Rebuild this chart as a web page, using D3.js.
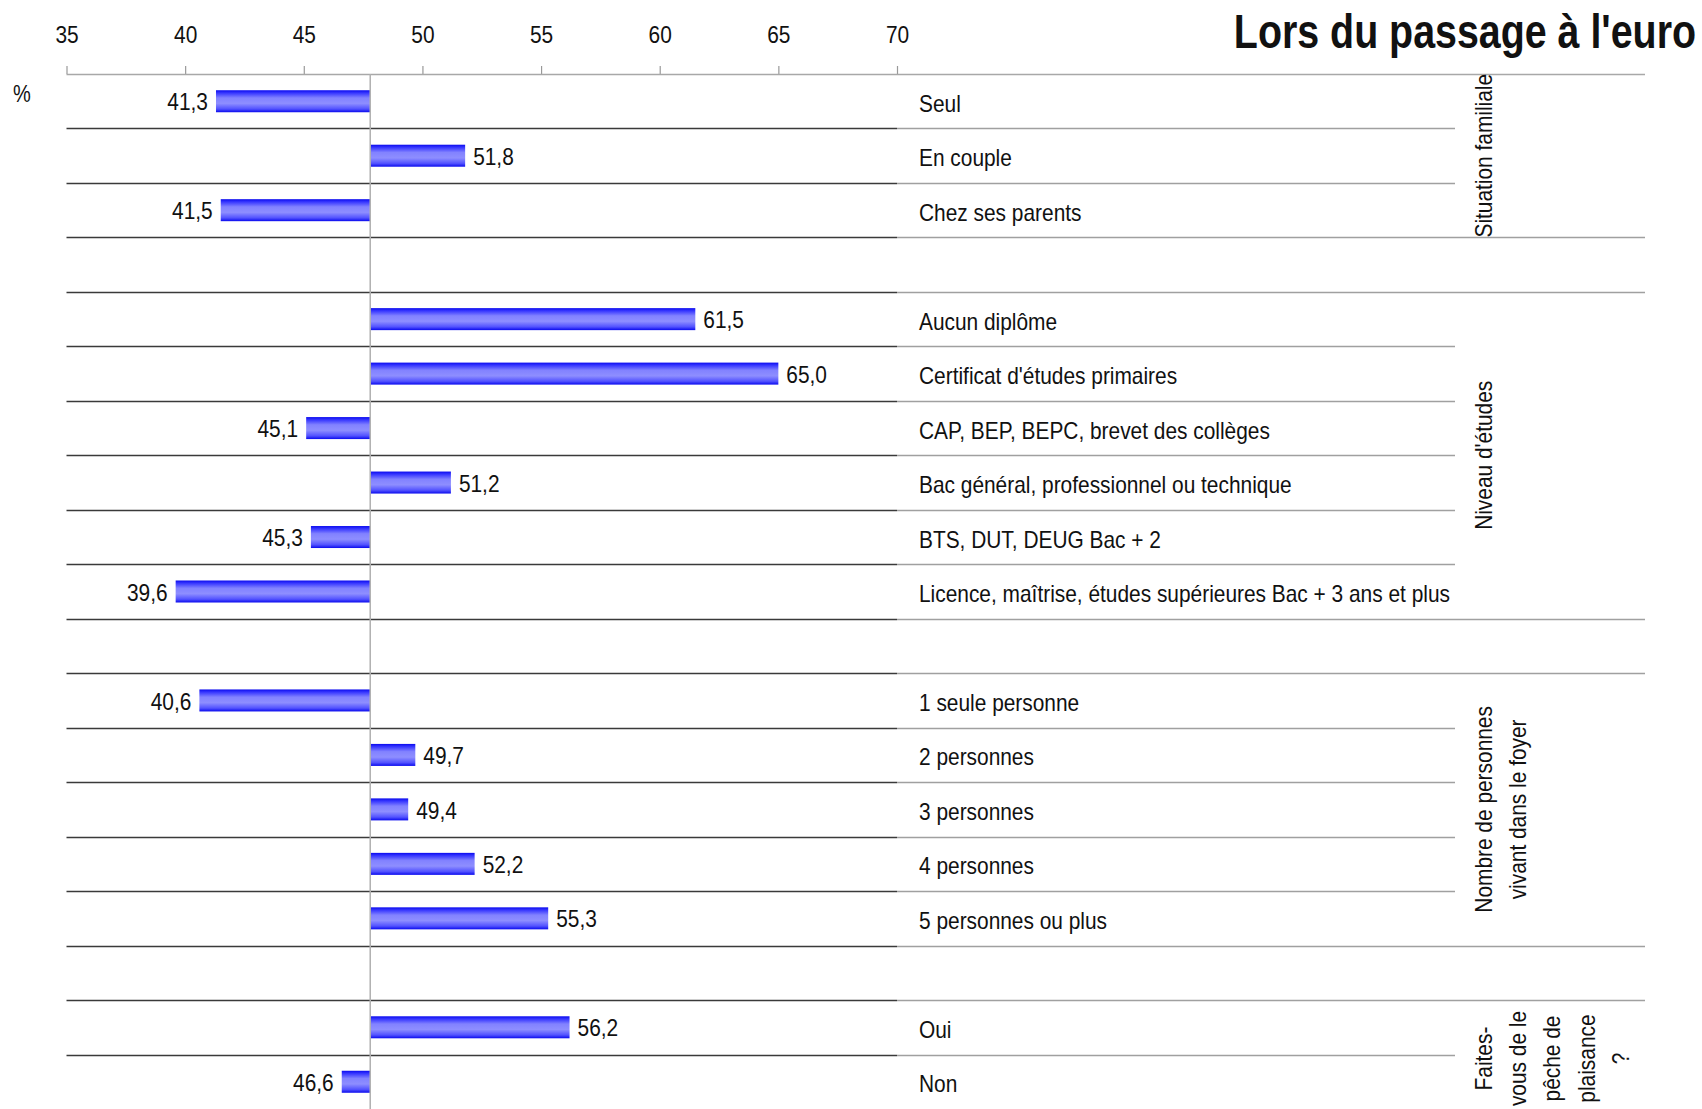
<!DOCTYPE html>
<html>
<head>
<meta charset="utf-8">
<script src="https://cdn.jsdelivr.net/npm/d3@7"></script>
<style>
  body { margin: 0; background: #fff; }
  svg text { font-family: "Liberation Sans", Arial, sans-serif; fill: #111; }
</style>
</head>
<body>
<div id="chart"></div>
<script>
// rows of the chart, "" = empty spacer row
var categories = ["Seul", "En couple", "Chez ses parents", "",
  "Aucun diplôme", "Certificat d'études primaires", "CAP, BEP, BEPC, brevet des collèges",
  "Bac général, professionnel ou technique", "BTS, DUT, DEUG Bac + 2",
  "Licence, maîtrise, études supérieures Bac + 3 ans et plus", "",
  "1 seule personne", "2 personnes", "3 personnes", "4 personnes", "5 personnes ou plus", "",
  "Oui", "Non"];
var values = [41.3, 51.8, 41.5, null,
  61.5, 65.0, 45.1, 51.2, 45.3, 39.6, null,
  40.6, 49.7, 49.4, 52.2, 55.3, null,
  56.2, 46.6];
var baseline = 47.8;
var xTicks = [35, 40, 45, 50, 55, 60, 65, 70];
var groupLabels = [["Situation familiale"], ["Niveau d'études"],
  ["Nombre de personnes", "vivant dans le foyer"],
  ["Faites-", "vous de le", "pêche de", "plaisance", "?"]];
var groupRows = [[0, 2], [4, 9], [11, 15], [17, 18]];
var title = "Lors du passage à l'euro";

(function() {

var W = 1702, H = 1109;
var topY = 74, left = 66.5, plotRight = 897, labelRight = 1455, fullRight = 1645;

var svg = d3.select("#chart").append("svg")
  .attr("width", W).attr("height", H);

var defs = svg.append("defs");
var grad = defs.append("linearGradient").attr("id", "barGrad")
  .attr("x1", 0).attr("y1", 0).attr("x2", 0).attr("y2", 1);
[[0, "#0a0aee"], [0.12, "#3535ff"], [0.35, "#8282ff"], [0.6, "#8e8eff"], [0.85, "#5252ff"], [1, "#0a0aee"]]
  .forEach(function(s) { grad.append("stop").attr("offset", s[0]).attr("stop-color", s[1]); });

var x = d3.scaleLinear().domain([35, 70]).range([left, plotRight]);
var y = d3.scaleBand().domain(d3.range(categories.length)).range([topY, H]).paddingInner(0);
var bh = 22;

// group boundaries: lines that go all the way right
var groupEdges = new Set();
groupRows.forEach(function(g) { groupEdges.add(g[0]); groupEdges.add(g[1] + 1); });

function ry(i) { return Math.round(y(i)) + 0.5; }

// row separators
var seps = d3.range(1, categories.length);
svg.append("g").selectAll("line").data(seps).enter().append("line")
  .attr("x1", plotRight).attr("x2", function(i) { return groupEdges.has(i) ? fullRight : labelRight; })
  .attr("y1", ry).attr("y2", ry)
  .attr("stroke", "#a0a0a0").attr("stroke-width", 1.5);
svg.append("g").selectAll("line").data(seps).enter().append("line")
  .attr("x1", left).attr("x2", plotRight)
  .attr("y1", ry).attr("y2", ry)
  .attr("stroke", "#3a3a3a").attr("stroke-width", 1.5);

// top axis
var axis = svg.append("g").attr("transform", "translate(0," + topY + ")")
  .call(d3.axisTop(x).tickValues(xTicks).tickSize(8).tickPadding(23).tickFormat(d3.format("d")));
axis.select(".domain").remove();
axis.selectAll(".tick line").attr("stroke", "#999").attr("stroke-width", 1.2);
axis.selectAll(".tick text").attr("class", "nar").style("font-size", "24px").attr("fill", "#111");
svg.append("line").attr("x1", left).attr("x2", fullRight)
  .attr("y1", topY + 0.5).attr("y2", topY + 0.5)
  .attr("stroke", "#a8a8a8").attr("stroke-width", 1.5);

svg.append("text").attr("class", "nar").attr("x", 13).attr("y", 102).style("font-size", "23px").text("%");

// bars
var rows = categories.map(function(c, i) { return { cat: c, v: values[i], i: i }; });
var withVal = rows.filter(function(d) { return d.v != null; });

svg.append("g").selectAll("rect").data(withVal).enter().append("rect")
  .attr("x", function(d) { return x(Math.min(d.v, baseline)); })
  .attr("width", function(d) { return Math.abs(x(d.v) - x(baseline)); })
  .attr("y", function(d) { return y(d.i) + y.bandwidth() / 2 - bh / 2; })
  .attr("height", bh)
  .attr("fill", "url(#barGrad)");

svg.append("g").selectAll("text").data(withVal).enter().append("text")
  .attr("class", "nar")
  .attr("x", function(d) { return d.v < baseline ? x(d.v) - 8 : x(d.v) + 8; })
  .attr("y", function(d) { return y(d.i) + y.bandwidth() / 2; })
  .attr("dy", "0.38em")
  .attr("text-anchor", function(d) { return d.v < baseline ? "end" : "start"; })
  .style("font-size", "24px")
  .text(function(d) { return d3.format(".1f")(d.v).replace(".", ","); });

// baseline
svg.append("line").attr("x1", x(baseline)).attr("x2", x(baseline))
  .attr("y1", topY).attr("y2", H)
  .attr("stroke", "#b0b0b0").attr("stroke-width", 1.5);

// category labels
svg.append("g").selectAll("text").data(rows.filter(function(d) { return d.cat; })).enter().append("text")
  .attr("class", "nar")
  .attr("x", 919)
  .attr("y", function(d) { return y(d.i) + y.bandwidth() / 2; })
  .attr("dy", "0.44em")
  .style("font-size", "24px")
  .text(function(d) { return d.cat; });

// group labels, rotated
groupLabels.forEach(function(lines, g) {
  var r = groupRows[g];
  var cy = (y(r[0]) + y(r[1]) + y.bandwidth()) / 2 + (g == 3 ? 4 : 0);
  lines.forEach(function(line, k) {
    svg.append("text")
      .attr("class", "nar")
      .attr("transform", "translate(" + (1483 + k * 34.3) + "," + cy + ") rotate(-90)")
      .attr("text-anchor", "middle")
      .attr("dy", "0.36em")
      .style("font-size", "24px")
      .text(line);
  });
});

// title
svg.append("text").attr("class", "nar title").attr("x", 1696).attr("y", 48)
  .attr("text-anchor", "end")
  .style("font-size", "48px").style("font-weight", "bold")
  .text(title);

// squeeze glyphs to look like a narrow face
svg.selectAll("text.nar").each(function() {
  var k = this.classList.contains("title") ? 0.82 : 0.87;
  var len = this.getComputedTextLength();
  d3.select(this).attr("textLength", len * k).attr("lengthAdjust", "spacingAndGlyphs");
});

})();
</script>
</body>
</html>
